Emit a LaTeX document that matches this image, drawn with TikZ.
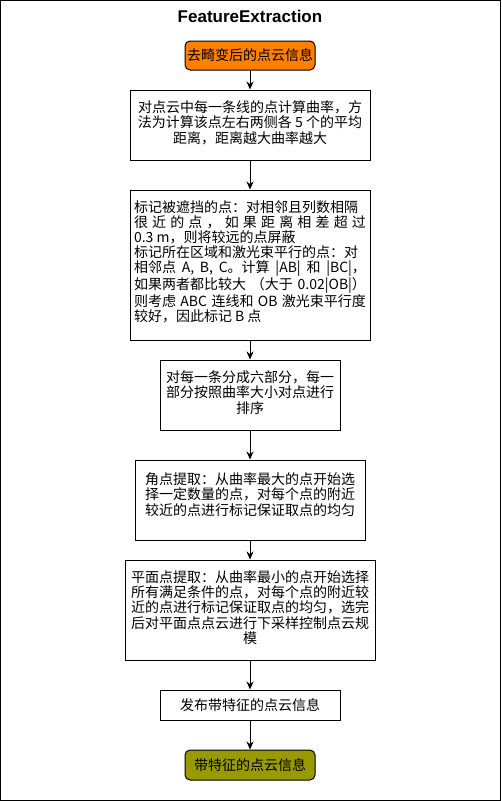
\documentclass[tikz,border=0pt]{standalone}
\usepackage{fontspec}
\setmainfont{Liberation Sans}
\newfontfamily\cjk{Noto Sans CJK SC}
\usetikzlibrary{arrows.meta}

\definecolor{startorange}{HTML}{FF8000}
\definecolor{endolive}{HTML}{999900}

\tikzset{
  stepbox/.style={draw, line width=1pt, inner sep=0pt, align=center,
    font=\cjk\fontsize{14pt}{15.2pt}\selectfont},
  termbox/.style={stepbox, rounded corners=5pt, minimum width=130pt},
  flow/.style={-{Stealth[length=8pt,width=7pt]}, line width=1pt}
}
\newcommand{\fullline}[1]{\makebox[232pt][s]{#1}}

\begin{document}
\begin{tikzpicture}[x=1pt,y=-1pt]

  \useasboundingbox (0,0) rectangle (501,801);
  \draw [line width=1pt] (0.5,0.5) rectangle (500.5,800.5);
  \node [font=\bfseries\fontsize{17pt}{20pt}\selectfont] (title) at (250,16) {FeatureExtraction};

  \node [termbox, fill=startorange, minimum height=29pt] (input) at (250,55.5) {去畸变后的点云信息};
  \node [stepbox, minimum width=240pt, minimum height=70pt] (curv) at (250,125)
    {对点云中每一条线的点计算曲率，方\\法为计算该点左右两侧各 5 个的平均\\距离，距离越大曲率越大\\[-9pt]};
  \node [stepbox, align=left, minimum width=240pt, minimum height=150pt] (mask) at (250,265)
    {标记被遮挡的点：对相邻且列数相隔\\
     \fullline{很 近 的 点 ， 如 果 距 离 相 差 超 过}\\
     0.3 m，则将较远的点屏蔽\\
     标记所在区域和激光束平行的点：对\\
     \fullline{相邻点 A, B, C。计算 |AB| 和 |BC|，}\\
     \fullline{如果两者都比较大 （大于 0.02|OB|）}\\
     \fullline{则考虑 ABC 连线和 OB 激光束平行度}\\
     较好，因此标记 B 点\\[-7pt]};
  \node [stepbox, minimum width=180pt, minimum height=70pt] (sortpts) at (250,395)
    {对每一条分成六部分，每一\\部分按照曲率大小对点进行\\排序\\[-9pt]};
  \node [stepbox, minimum width=230pt, minimum height=80pt] (corner) at (250,500)
    {角点提取：从曲率最大的点开始选\\择一定数量的点，对每个点的附近\\较近的点进行标记保证取点的均匀\\[-3pt]};
  \node [stepbox, minimum width=250pt, minimum height=100pt] (flat) at (250,610)
    {平面点提取：从曲率最小的点开始选择\\所有满足条件的点，对每个点的附近较\\近的点进行标记保证取点的均匀，选完\\后对平面点点云进行下采样控制点云规\\模\\[-9pt]};
  \node [stepbox, minimum width=180pt, minimum height=30pt] (publish) at (250,705) {发布带特征的点云信息};
  \node [termbox, fill=endolive, minimum height=30pt] (output) at (250,765) {带特征的点云信息};

  % vertical flow
  \draw [flow] (input) -- (curv);
  \draw [flow] (curv) -- (mask);
  \draw [flow] (mask) -- (sortpts);
  \draw [flow] (sortpts) -- (corner);
  \draw [flow] (corner) -- (flat);
  \draw [flow] (flat) -- (publish);
  \draw [flow] (publish) -- (output);

\end{tikzpicture}
\end{document}
